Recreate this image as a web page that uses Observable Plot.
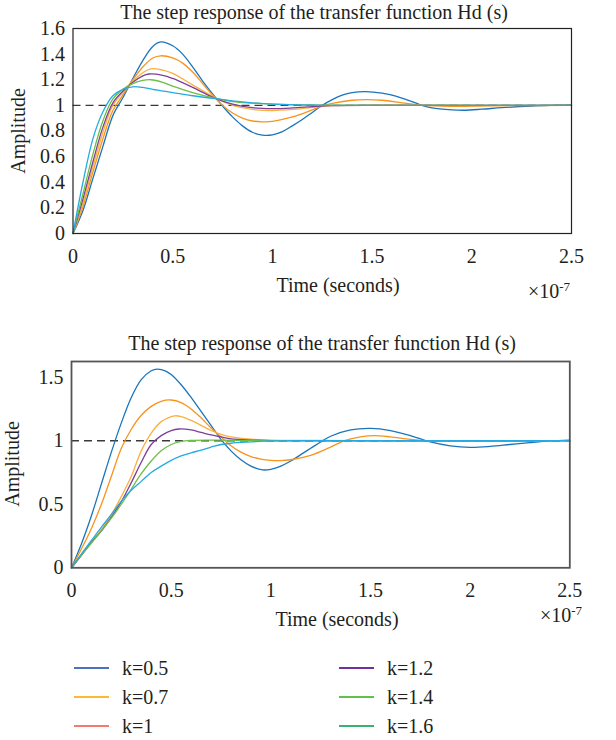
<!DOCTYPE html>
<html><head><meta charset="utf-8">
<script src="https://cdn.jsdelivr.net/npm/d3@7"></script>
<script src="https://cdn.jsdelivr.net/npm/@observablehq/plot@0.6"></script>
<style>
body{margin:0;background:#fff;}
#root{position:relative;width:616px;height:740px;font-family:"Liberation Serif",serif;color:#231f20;overflow:hidden;}
.t{position:absolute;white-space:nowrap;font-size:20px;line-height:1;transform:translate(-50%,-50%);}
.sw{position:absolute;height:2px;}
svg{position:absolute;left:0;}
</style></head><body><div id="root"></div>
<script>
// ---- data (time in units of 1e-7 s) ----
const kLabels = ["k=0.5","k=0.7","k=1","k=1.2","k=1.4","k=1.6"];
const lineColors = ["#1a75bc","#f7941d","#fbb040","#7e3f98","#6dbe45","#27aae1"];
const legendColors = ["#4a72c0","#fdb934","#f47a70","#7030a0","#62c04c","#3bb173"];
const xTicks = [0,0.5,1,1.5,2,2.5];
const topYTicks = [0,0.2,0.4,0.6,0.8,1,1.2,1.4,1.6];
const botYTicks = [0,0.5,1,1.5];
const titleText = "The step response of the transfer function Hd (s)";

// top chart curves
const top05 = [[0,0],[0.05,0.18],[0.1,0.43],[0.15,0.68],[0.2,0.92],[0.25,1.06],[0.3,1.21],[0.35,1.35],[0.4,1.46],[0.44,1.495],[0.5,1.465],[0.55,1.40],[0.6,1.30],[0.65,1.19],[0.7,1.09],[0.75,0.995],[0.8,0.91],[0.85,0.84],[0.9,0.79],[0.95,0.768],[1.0,0.77],[1.05,0.795],[1.1,0.84],[1.15,0.89],[1.2,0.945],[1.25,1.0],[1.3,1.045],[1.35,1.08],[1.4,1.1],[1.47,1.107],[1.55,1.095],[1.6,1.08],[1.7,1.03],[1.75,1.0],[1.8,0.98],[1.9,0.965],[1.96,0.962],[2.05,0.97],[2.15,0.982],[2.3,0.995],[2.4,1.0],[2.5,1.003]];
const top07 = [[0,0],[0.05,0.21],[0.1,0.48],[0.15,0.74],[0.2,0.96],[0.25,1.08],[0.3,1.20],[0.35,1.30],[0.4,1.37],[0.44,1.387],[0.5,1.37],[0.55,1.33],[0.6,1.26],[0.65,1.17],[0.7,1.08],[0.75,1.0],[0.8,0.94],[0.85,0.90],[0.9,0.878],[0.95,0.872],[1.0,0.875],[1.1,0.91],[1.2,0.965],[1.25,0.995],[1.3,1.015],[1.4,1.04],[1.47,1.045],[1.55,1.04],[1.65,1.02],[1.75,1.0],[1.9,0.993],[2.1,0.997],[2.5,1.0]];
const top10 = [[0,0],[0.05,0.24],[0.1,0.52],[0.15,0.79],[0.2,1.0],[0.25,1.10],[0.3,1.19],[0.35,1.255],[0.39,1.285],[0.45,1.275],[0.5,1.25],[0.6,1.16],[0.7,1.07],[0.75,1.03],[0.8,1.0],[0.9,0.968],[1.0,0.96],[1.1,0.968],[1.2,0.985],[1.3,0.998],[1.5,1.003],[2.0,1.0],[2.5,1.0]];
const top12 = [[0,0],[0.05,0.27],[0.1,0.56],[0.15,0.83],[0.2,1.02],[0.25,1.11],[0.3,1.18],[0.35,1.23],[0.38,1.245],[0.45,1.235],[0.5,1.21],[0.6,1.14],[0.7,1.065],[0.8,1.01],[0.9,0.982],[1.0,0.975],[1.1,0.98],[1.2,0.99],[1.3,0.998],[1.6,1.0],[2.5,1.0]];
const top14 = [[0,0],[0.05,0.31],[0.1,0.62],[0.15,0.88],[0.2,1.05],[0.25,1.125],[0.3,1.17],[0.35,1.195],[0.39,1.2],[0.45,1.18],[0.5,1.15],[0.6,1.10],[0.7,1.06],[0.8,1.03],[0.9,1.018],[1.0,1.01],[1.2,1.003],[1.5,1.0],[2.5,1.0]];
const top16 = [[0,0],[0.05,0.40],[0.1,0.74],[0.15,0.95],[0.2,1.075],[0.25,1.125],[0.3,1.145],[0.35,1.14],[0.4,1.125],[0.5,1.10],[0.6,1.075],[0.7,1.055],[0.8,1.035],[0.9,1.02],[1.0,1.01],[1.2,1.002],[1.5,1.0],[2.5,1.0]];

// bottom chart curves
const bot05 = [[0,0],[0.05,0.19],[0.1,0.41],[0.15,0.66],[0.2,0.91],[0.25,1.14],[0.3,1.34],[0.35,1.48],[0.4,1.55],[0.43,1.563],[0.47,1.55],[0.5,1.52],[0.55,1.44],[0.6,1.34],[0.65,1.23],[0.7,1.12],[0.75,1.01],[0.8,0.92],[0.85,0.85],[0.9,0.80],[0.96,0.77],[1.0,0.775],[1.05,0.80],[1.1,0.84],[1.15,0.89],[1.2,0.94],[1.25,0.99],[1.3,1.035],[1.4,1.085],[1.5,1.097],[1.6,1.08],[1.7,1.04],[1.8,0.99],[1.9,0.96],[2.0,0.948],[2.1,0.955],[2.2,0.97],[2.3,0.985],[2.4,0.998],[2.5,1.005]];
const bot07 = [[0,0],[0.05,0.15],[0.1,0.31],[0.15,0.50],[0.2,0.72],[0.25,0.94],[0.3,1.09],[0.35,1.20],[0.4,1.27],[0.45,1.31],[0.5,1.32],[0.55,1.30],[0.6,1.25],[0.65,1.18],[0.7,1.10],[0.75,1.03],[0.8,0.96],[0.85,0.91],[0.9,0.875],[0.95,0.855],[1.0,0.845],[1.05,0.843],[1.1,0.85],[1.2,0.885],[1.3,0.95],[1.37,1.0],[1.45,1.03],[1.52,1.04],[1.6,1.03],[1.7,1.01],[1.8,0.998],[2.0,0.997],[2.5,1.0]];
const bot10 = [[0,0],[0.05,0.10],[0.1,0.20],[0.15,0.30],[0.2,0.42],[0.25,0.56],[0.3,0.72],[0.35,0.92],[0.4,1.06],[0.45,1.15],[0.5,1.19],[0.52,1.196],[0.55,1.19],[0.6,1.16],[0.65,1.12],[0.7,1.08],[0.75,1.05],[0.8,1.03],[0.9,1.012],[1.0,1.005],[1.2,1.002],[1.5,1.0],[2.5,1.0]];
const bot12 = [[0,0],[0.05,0.10],[0.1,0.20],[0.15,0.29],[0.2,0.40],[0.25,0.52],[0.3,0.67],[0.35,0.83],[0.4,0.97],[0.45,1.04],[0.5,1.08],[0.54,1.092],[0.6,1.085],[0.65,1.065],[0.7,1.045],[0.75,1.03],[0.8,1.015],[0.9,1.005],[1.0,1.0],[2.5,1.0]];
const bot14 = [[0,0],[0.05,0.10],[0.1,0.195],[0.15,0.29],[0.2,0.39],[0.25,0.50],[0.3,0.62],[0.35,0.74],[0.4,0.84],[0.45,0.92],[0.5,0.97],[0.55,0.995],[0.6,1.003],[0.7,1.005],[0.8,1.003],[1.0,1.0],[2.5,1.0]];
const bot16 = [[0,0],[0.05,0.11],[0.1,0.215],[0.15,0.32],[0.2,0.42],[0.25,0.525],[0.3,0.61],[0.35,0.68],[0.4,0.75],[0.45,0.80],[0.5,0.845],[0.55,0.88],[0.6,0.905],[0.65,0.925],[0.7,0.95],[0.75,0.97],[0.8,0.98],[0.9,0.99],[1.0,0.998],[1.2,1.0],[2.5,1.0]];

const topCurves = [top05, top07, top10, top12, top14, top16];
const botCurves = [bot05, bot07, bot10, bot12, bot14, bot16];

function rows(curves){
  return curves.flatMap((c,i)=>c.map(([t,v])=>({t, v, k:kLabels[i]})));
}

const root = document.getElementById("root");
function txt(html, x, y, extra){
  const d = document.createElement("div");
  d.className = "t"; d.innerHTML = html;
  d.style.left = x+"px"; d.style.top = y+"px";
  if (extra) Object.assign(d.style, extra);
  root.appendChild(d); return d;
}

function chart(curves, yDomain, yTicks, top, h, m, frameStroke, frameW){
  const svg = Plot.plot({
    width: 616, height: h,
    marginLeft: m[0], marginRight: m[1], marginTop: m[2], marginBottom: m[3],
    style: {fontFamily: '"Liberation Serif", serif', fontSize: "20px", color: "#231f20", background: "transparent"},
    x: {domain: [0, 2.5], ticks: xTicks, tickFormat: d => String(d), tickSize: 0, tickPadding: 15, label: null},
    y: {domain: yDomain, ticks: yTicks, tickFormat: d => String(d), tickSize: 0, tickPadding: 8, label: null},
    color: {domain: kLabels, range: lineColors},
    marks: [
      Plot.ruleY([1], {stroke: "#3a3a3a", strokeWidth: 1.4, strokeDasharray: "8,5"}),
      Plot.line(rows(curves), {x: "t", y: "v", z: "k", stroke: "k", strokeWidth: 1.3, curve: "catmull-rom"}),
      Plot.frame({stroke: frameStroke, strokeWidth: frameW})
    ]
  });
  svg.style.top = top + "px";
  root.appendChild(svg);
}

// top chart: svg at y=0
chart(topCurves, [0, 1.6], topYTicks, 0, 275, [72.5, 45, 28, 42], "#222", 1.2);
// bottom chart: svg at y=330
chart(botCurves, [0, 1.623], botYTicks, 330, 280, [71, 46.7, 31, 42.7], "#555", 1.8);

txt(titleText, 314, 12);
txt(titleText, 322, 343);
txt("Amplitude", 18, 131, {transform: "translate(-50%,-50%) rotate(-90deg)"});
txt("Amplitude", 12, 464, {transform: "translate(-50%,-50%) rotate(-90deg)"});
txt("Time (seconds)", 338, 285);
txt("Time (seconds)", 337, 619);
txt("×10<sup style='font-size:13px;vertical-align:7px'>-7</sup>", 549, 290);
txt("×10<sup style='font-size:13px;vertical-align:7px'>-7</sup>", 561, 614);

// legend
const legRows = [668, 697, 726];
kLabels.forEach((lab, i) => {
  const col = Math.floor(i / 3), r = i % 3;
  const lx = col === 0 ? 74 : 339;
  const sw = document.createElement("div");
  sw.className = "sw";
  sw.style.left = lx + "px"; sw.style.top = (legRows[r] - 1) + "px";
  sw.style.width = "35px"; sw.style.background = legendColors[i];
  root.appendChild(sw);
  txt(lab, 0, legRows[r], {transform: "translate(0,-50%)", left: (lx + 48) + "px"});
});
</script></body></html>
